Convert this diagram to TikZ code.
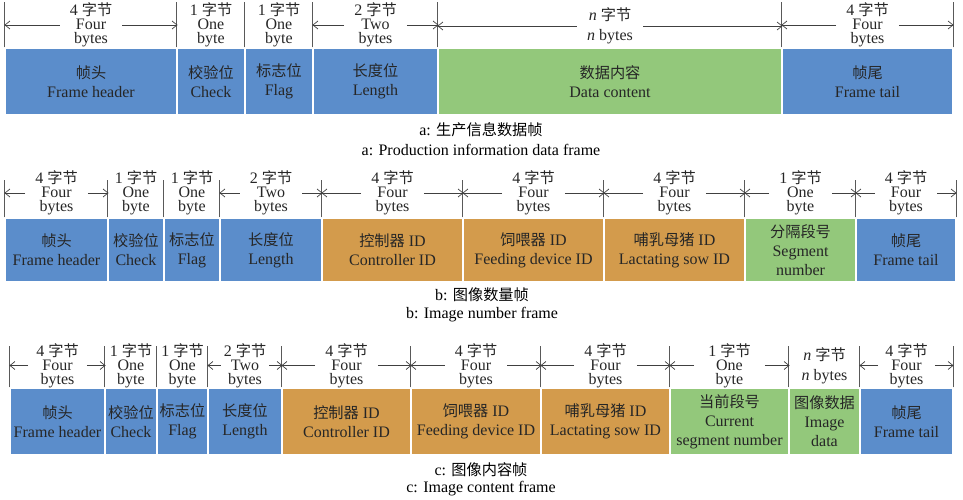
\documentclass[tikz,border=0pt]{standalone}
\usepackage{fontspec}
\setmainfont{Liberation Serif}
\newfontfamily\cjk[Scale=0.95]{Noto Sans CJK SC}
\newcommand{\zh}[1]{{\cjk #1}}
\newcommand{\lblfont}{\fontsize{16}{14}\selectfont\lineskiplimit=-20pt\relax}
\usepackage{xcolor}
\usepackage{tikz}
\usetikzlibrary{arrows.meta,calc}

\definecolor{fldblue}{RGB}{91,141,203}
\definecolor{fldorange}{RGB}{211,155,76}
\definecolor{fldgreen}{RGB}{147,200,123}

\begin{document}
\begin{tikzpicture}[x=1pt,y=-1pt,font=\fontsize{16}{19}\selectfont,
	dimarr/.style = {line width=0.7pt,draw=black!75,-{Straight Barb[length=5pt,width=8pt]}}]
	\tikzset{field/.style={draw=white,line width=1.2pt,inner sep=0pt,align=center,text=black!85}}
	\tikzset{hdr/.style={field,fill=fldblue}, ids/.style={field,fill=fldorange}, dat/.style={field,fill=fldgreen}}
	\tikzset{rowa/.style={minimum height=67pt}, rowb/.style={minimum height=64pt}, rowc/.style={minimum height=67pt}}
	\tikzset{wlbl/.style={align=center,inner xsep=10pt,inner ysep=0pt,text=black!85,font=\lblfont}}
	\tikzset{nlbl/.style={wlbl,font=\fontsize{16}{20}\selectfont}}
	\tikzset{divl/.style={line width=0.8pt,draw=black!65}}

	\useasboundingbox (0,0) rectangle (963,500);

	% a: production information data frame

	\node[hdr, rowa, minimum width=172pt] (a1) at (91,81.5) {\zh{帧头}\\Frame header};
	\node[hdr, rowa, minimum width=68pt] (a2) at (211,81.5) {\zh{校验位}\\Check};
	\node[hdr, rowa, minimum width=68pt] (a3) at (279,81.5) {\zh{标志位}\\Flag};
	\node[hdr, rowa, minimum width=125pt] (a4) at (375.5,81.5) {\zh{长度位}\\Length};
	\node[dat, rowa, minimum width=344pt] (a5) at (610,81.5) {\zh{数据内容}\\Data content};
	\node[hdr, rowa, minimum width=171pt] (a6) at (867.5,81.5) {\zh{帧尾}\\Frame tail};

	\foreach \b in {a1,a2,a3,a4,a5,a6} \draw[divl] (\b.north west) -- ++(0,-45);
	\draw[divl] (a6.north east) -- ++(0,-45);

	\node[wlbl] (la1) at (91,25) {4 \zh{字节}\\Four\\bytes};
	\node[wlbl] (la2) at (211,25) {1 \zh{字节}\\One\\byte};
	\node[wlbl] (la3) at (279,25) {1 \zh{字节}\\One\\byte};
	\node[wlbl] (la4) at (375.5,25) {2 \zh{字节}\\Two\\bytes};
	\node[nlbl] (la5) at (610,26) {\textit{n} \zh{字节}\\\textit{n} bytes};
	\node[wlbl] (la6) at (867.5,25) {4 \zh{字节}\\Four\\bytes};

	\foreach \l/\b in {la1/a1,la4/a4,la5/a5,la6/a6}{
		\draw[dimarr] (\l.west) -- (\l.west -| \b.west);
		\draw[dimarr] (\l.east) -- (\l.east -| \b.east);
	}

	\node (capa1) at (481,130) {a: \zh{生产信息数据帧}};
	\node (capa2) at (481,150) {a: Production information data frame};

	% b: image number frame

	\node[hdr, rowb, minimum width=103pt] (b1) at (56.5,250) {\zh{帧头}\\Frame header};
	\node[hdr, rowb, minimum width=56pt] (b2) at (136,250) {\zh{校验位}\\Check};
	\node[hdr, rowb, minimum width=56pt] (b3) at (192,250) {\zh{标志位}\\Flag};
	\node[hdr, rowb, minimum width=102pt] (b4) at (271,250) {\zh{长度位}\\Length};
	\node[ids, rowb, minimum width=141pt] (b5) at (392.5,250) {\zh{控制器} ID\\Controller ID};
	\node[ids, rowb, minimum width=141pt] (b6) at (533.5,250) {\zh{饲喂器} ID\\Feeding device ID};
	\node[ids, rowb, minimum width=141pt] (b7) at (674.5,250) {\zh{哺乳母猪} ID\\Lactating sow ID};
	\node[dat, rowb, minimum width=111pt] (b8) at (800.5,250) {\zh{分隔段号}\\Segment\\number};
	\node[hdr, rowb, minimum width=100pt] (b9) at (906,250) {\zh{帧尾}\\Frame tail};

	\foreach \b in {b1,b2,b3,b4,b5,b6,b7,b8,b9} \draw[divl] (\b.north west) -- ++(0,-37);
	\draw[divl] (b9.north east) -- ++(0,-37);

	\node[wlbl] (lb1) at (56.5,193) {4 \zh{字节}\\Four\\bytes};
	\node[wlbl] (lb2) at (136,193) {1 \zh{字节}\\One\\byte};
	\node[wlbl] (lb3) at (192,193) {1 \zh{字节}\\One\\byte};
	\node[wlbl] (lb4) at (271,193) {2 \zh{字节}\\Two\\bytes};
	\node[wlbl] (lb5) at (392.5,193) {4 \zh{字节}\\Four\\bytes};
	\node[wlbl] (lb6) at (533.5,193) {4 \zh{字节}\\Four\\bytes};
	\node[wlbl] (lb7) at (674.5,193) {4 \zh{字节}\\Four\\bytes};
	\node[wlbl] (lb8) at (800.5,193) {1 \zh{字节}\\One\\byte};
	\node[wlbl] (lb9) at (906,193) {4 \zh{字节}\\Four\\bytes};

	\foreach \l/\b in {lb1/b1,lb4/b4,lb5/b5,lb6/b6,lb7/b7,lb8/b8,lb9/b9}{
		\draw[dimarr] (\l.west) -- (\l.west -| \b.west);
		\draw[dimarr] (\l.east) -- (\l.east -| \b.east);
	}

	\node (capb1) at (482,295) {b: \zh{图像数量帧}};
	\node (capb2) at (482,315) {b: Image number frame};

	% c: image content frame

	\node[hdr, rowc, minimum width=95pt] (c1) at (57.5,421.5) {\zh{帧头}\\Frame header};
	\node[hdr, rowc, minimum width=52pt] (c2) at (131,421.5) {\zh{校验位}\\Check};
	\node[hdr, rowc, minimum width=51pt] (c3) at (182.5,421.5) {\zh{标志位}\\Flag};
	\node[hdr, rowc, minimum width=74pt] (c4) at (245,421.5) {\zh{长度位}\\Length};
	\node[ids, rowc, minimum width=129pt] (c5) at (346.5,421.5) {\zh{控制器} ID\\Controller ID};
	\node[ids, rowc, minimum width=130pt] (c6) at (476,421.5) {\zh{饲喂器} ID\\Feeding device ID};
	\node[ids, rowc, minimum width=129pt] (c7) at (605.5,421.5) {\zh{哺乳母猪} ID\\Lactating sow ID};
	\node[dat, rowc, minimum width=119pt] (c8) at (729.5,421.5) {\zh{当前段号}\\Current\\segment number};
	\node[dat, rowc, minimum width=71pt] (c9) at (824.5,421.5) {\zh{图像数据}\\Image\\data};
	\node[hdr, rowc, minimum width=93pt] (c10) at (906.5,421.5) {\zh{帧尾}\\Frame tail};

	\foreach \b in {c1,c2,c3,c4,c5,c6,c7,c8,c9,c10} \draw[divl] (\b.north west) -- ++(0,-41);
	\draw[divl] (c10.north east) -- ++(0,-41);

	\node[wlbl,inner xsep=8pt] (lc1) at (57.5,365.5) {4 \zh{字节}\\Four\\bytes};
	\node[wlbl] (lc2) at (131,365.5) {1 \zh{字节}\\One\\byte};
	\node[wlbl] (lc3) at (182.5,365.5) {1 \zh{字节}\\One\\byte};
	\node[wlbl,inner xsep=3pt] (lc4) at (245,365.5) {2 \zh{字节}\\Two\\bytes};
	\node[wlbl] (lc5) at (346.5,365.5) {4 \zh{字节}\\Four\\bytes};
	\node[wlbl] (lc6) at (476,365.5) {4 \zh{字节}\\Four\\bytes};
	\node[wlbl] (lc7) at (605.5,365.5) {4 \zh{字节}\\Four\\bytes};
	\node[wlbl,inner xsep=14pt] (lc8) at (729.5,365.5) {1 \zh{字节}\\One\\byte};
	\node[nlbl] (lc9) at (824.5,366) {\textit{n} \zh{字节}\\\textit{n} bytes};
	\node[wlbl,inner xsep=7pt] (lc10) at (906.5,365.5) {4 \zh{字节}\\Four\\bytes};

	\foreach \l/\b in {lc1/c1,lc4/c4,lc5/c5,lc6/c6,lc7/c7,lc8/c8,lc10/c10}{
		\draw[dimarr] (\l.west) -- (\l.west -| \b.west);
		\draw[dimarr] (\l.east) -- (\l.east -| \b.east);
	}

	\node (capc1) at (481,470) {c: \zh{图像内容帧}};
	\node (capc2) at (481,489) {c: Image content frame};

\end{tikzpicture}
\end{document}
